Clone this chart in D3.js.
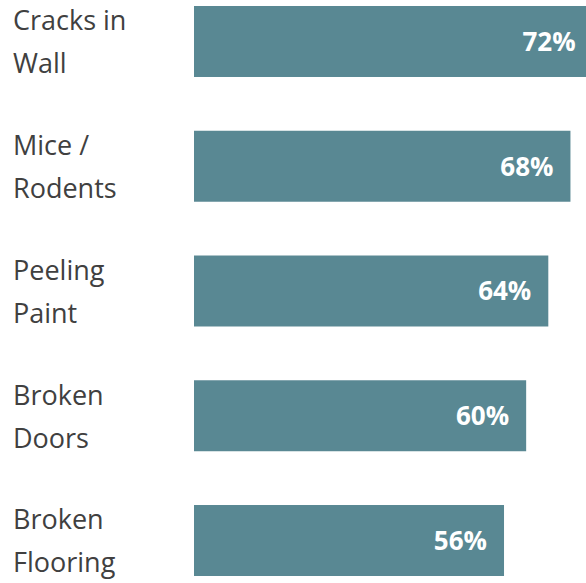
<!DOCTYPE html>
<html>
<head>
<meta charset="utf-8">
<script src="https://cdn.jsdelivr.net/npm/d3@7"></script>
<style>
  html, body { margin: 0; padding: 0; background: #fff; }
  svg { display: block; }
</style>
</head>
<body>
<svg id="chart" width="586" height="583"></svg>
<script>
// Housing problems reported (% of respondents)
const categories = [
  ["Cracks in", "Wall"],
  ["Mice /", "Rodents"],
  ["Peeling", "Paint"],
  ["Broken", "Doors"],
  ["Broken", "Flooring"]
];
const values = [72, 68, 64, 60, 56];

const W = 586, H = 583;
const svg = d3.select("#chart");

const x = d3.scaleLinear().domain([0, 100]).range([194, 194 + 553.6]);
const y = d3.scaleBand()
  .domain(d3.range(values.length))
  .range([6, 576])
  .paddingInner(0.431)
  .paddingOuter(0);

const barColor = "#598893";
const font = "'Open Sans', 'Noto Sans', sans-serif";

// bars
svg.append("g").selectAll("rect")
  .data(values)
  .join("rect")
  .attr("x", x(0))
  .attr("y", (d, i) => y(i))
  .attr("width", d => x(d) - x(0))
  .attr("height", y.bandwidth())
  .attr("fill", barColor);

// value labels inside the bar ends
svg.append("g").selectAll("text")
  .data(values)
  .join("text")
  .attr("x", d => x(d) - 17)
  .attr("y", (d, i) => y(i) + y.bandwidth() / 2)
  .attr("dy", "0.36em")
  .attr("text-anchor", "end")
  .attr("fill", "#ffffff")
  .attr("font-family", font)
  .attr("font-weight", 700)
  .attr("font-size", 26)
  .text(d => d + "%");

// two-line category labels
const lineGap = 43;
const labels = svg.append("g").selectAll("text")
  .data(categories)
  .join("text")
  .attr("font-family", font)
  .attr("font-size", 27)
  .attr("fill", "#404040");
labels.each(function (lines, i) {
  const cy = y(i) + y.bandwidth() / 2;
  d3.select(this).selectAll("tspan")
    .data(lines)
    .join("tspan")
    .attr("x", 13)
    .attr("y", (l, j) => cy - lineGap / 2 + j * lineGap)
    .attr("dy", "0.38em")
    .text(l => l);
});
</script>
</body>
</html>
